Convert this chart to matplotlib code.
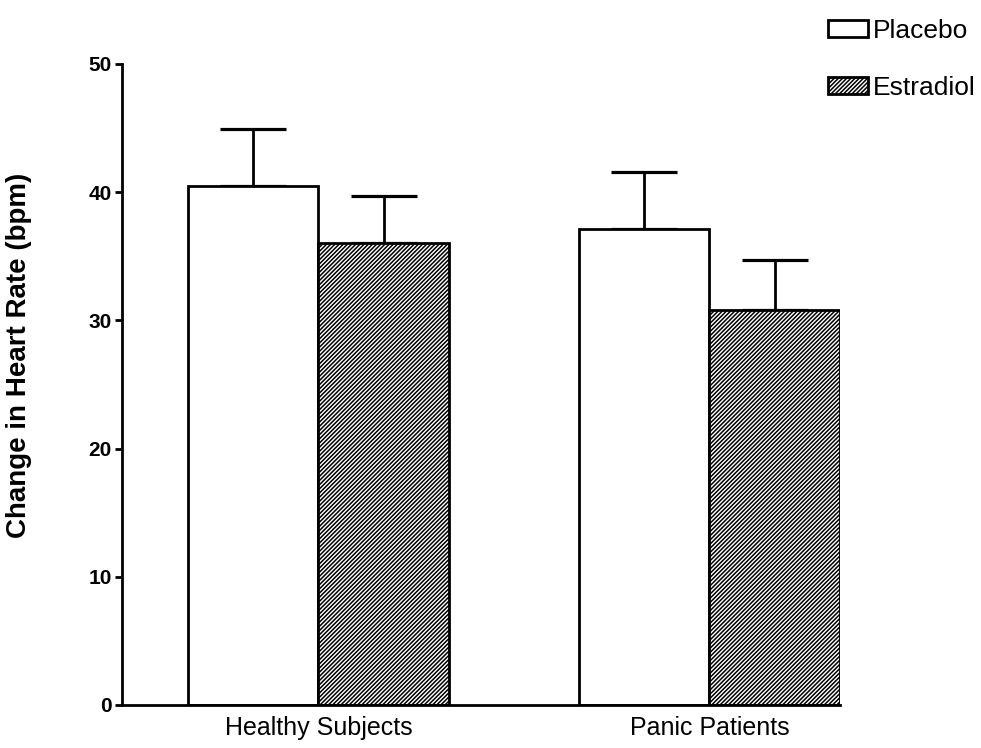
import matplotlib
matplotlib.use("Agg")
import matplotlib.pyplot as plt
import numpy as np
from matplotlib.patches import Patch

groups = ["Healthy Subjects", "Panic Patients"]
placebo = [40.5, 37.1]
placebo_err = [4.4, 4.5]
estradiol = [36.0, 30.8]
estradiol_err = [3.7, 3.9]

plt.rcParams['font.family'] = ['Liberation Sans', 'DejaVu Sans']
plt.rcParams['hatch.linewidth'] = 1.1

fig = plt.figure(figsize=(9.81, 7.48), dpi=100)
ax = fig.add_axes([0.124, 0.0575, 0.732, 0.857])

x = np.array([0.0, 3.0])
w = 1.0
lw = 2.0
hatch = '/' * 8

ax.bar(x - w / 2, placebo, w, color='white', edgecolor='black', linewidth=lw, zorder=2)
ax.bar(x + w / 2, estradiol, w, color='white', edgecolor='black', linewidth=lw,
       hatch=hatch, zorder=2)

# upward error bars only
ax.errorbar(x - w / 2, placebo, yerr=[[0, 0], placebo_err], fmt='none',
            ecolor='black', elinewidth=lw, capsize=24, capthick=lw + 0.3, zorder=1)
ax.errorbar(x + w / 2, estradiol, yerr=[[0, 0], estradiol_err], fmt='none',
            ecolor='black', elinewidth=lw, capsize=24, capthick=lw + 0.3, zorder=1)

ax.set_xlim(-1.51, 4.0)
ax.set_ylim(0, 50)
ax.set_yticks([0, 10, 20, 30, 40, 50])
ax.set_xticks(x)
ax.set_xticklabels(groups, fontsize=18)
ax.tick_params(axis='x', length=0, pad=8)
ax.tick_params(axis='y', length=5, width=2, pad=2, labelsize=15)
for t in ax.get_yticklabels():
    t.set_fontweight('bold')

for s in ['top', 'right']:
    ax.spines[s].set_visible(False)
for s in ['left', 'bottom']:
    ax.spines[s].set_linewidth(2.0)

ax.set_ylabel("Change in Heart Rate (bpm)", fontsize=20, fontweight='bold')
ax.yaxis.set_label_coords(-0.125, 0.546)

handles = [Patch(facecolor='white', edgecolor='black', linewidth=2, label='Placebo'),
           Patch(facecolor='white', edgecolor='black', linewidth=2, hatch=hatch,
                 label='Estradiol')]
fig.legend(handles=handles, loc='upper right', bbox_to_anchor=(0.995, 0.975),
           frameon=False, fontsize=19, handlelength=1.5, handleheight=0.6,
           handletextpad=0.2, labelspacing=1.25, borderpad=0, borderaxespad=0)

fig.savefig("out.png", dpi=100)
